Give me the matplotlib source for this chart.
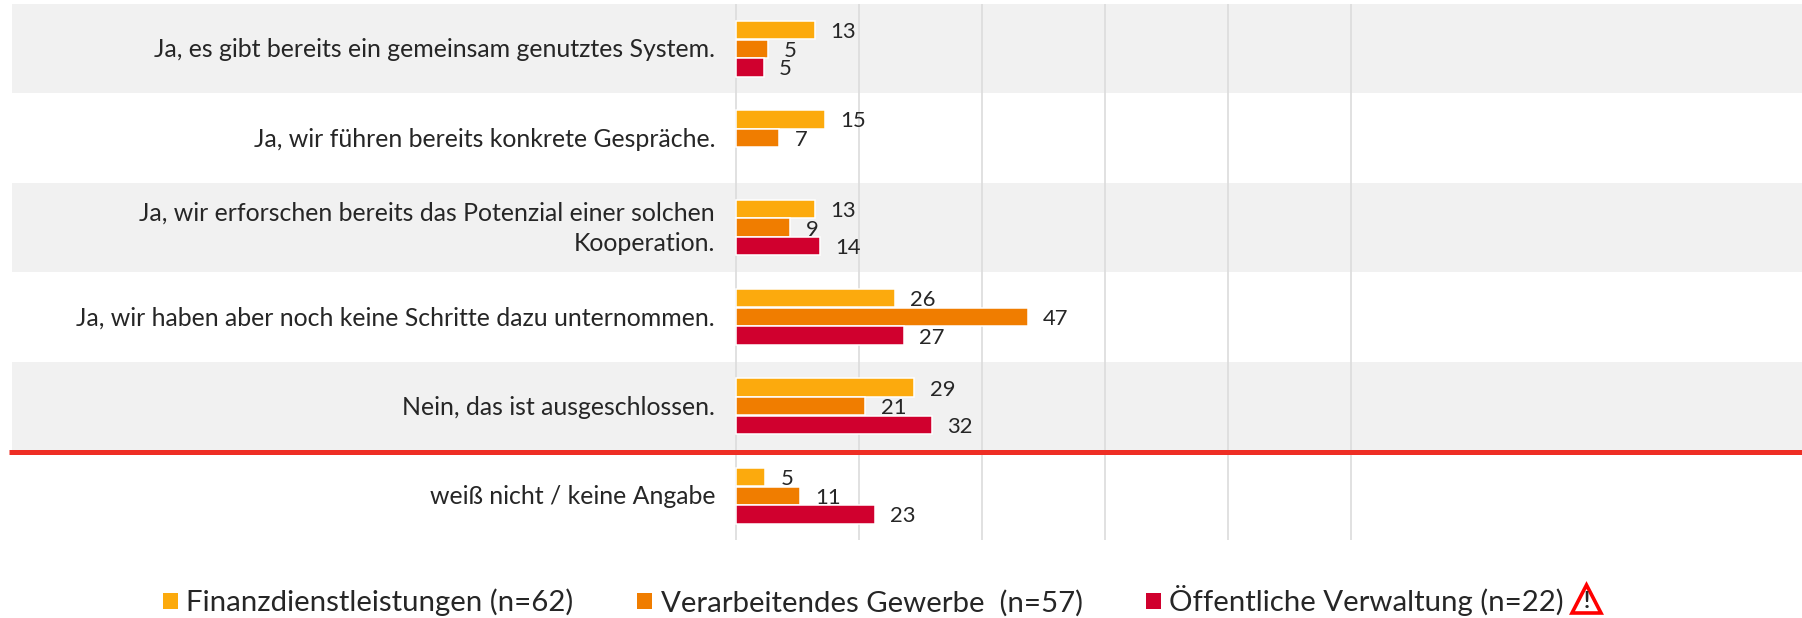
import numpy as np
import matplotlib
matplotlib.use("Agg")
import matplotlib.pyplot as plt
from matplotlib.patches import Patch, Polygon

categories = [
    "Ja, es gibt bereits ein gemeinsam genutztes System.",
    "Ja, wir führen bereits konkrete Gespräche.",
    "Ja, wir erforschen bereits das Potenzial einer solchen\nKooperation.",
    "Ja, wir haben aber noch keine Schritte dazu unternommen.",
    "Nein, das ist ausgeschlossen.",
    "weiß nicht / keine Angabe",
]
series_names = [
    "Finanzdienstleistungen (n=62)",
    "Verarbeitendes Gewerbe  (n=57)",
    "Öffentliche Verwaltung (n=22)",
]
finanz = [12.8, 14.4, 12.8, 25.8, 29.0, 4.7]
gewerbe = [5.2, 7.0, 8.8, 47.4, 21.0, 10.4]
verwaltung = [4.5, np.nan, 13.6, 27.3, 31.8, 22.6]
finanz_labels = ["13", "15", "13", "26", "29", "5"]
gewerbe_labels = ["5", "7", "9", "47", "21", "11"]
verwaltung_labels = ["5", "", "14", "27", "32", "23"]
grid_ticks = [0, 20, 40, 60, 80, 100]

YELLOW, ORANGE, RED = "#fcaa0d", "#f07d00", "#d0002e"
TEXT = "#262626"
W, H = 1802, 618
plt.rcParams["font.family"] = ["Lato", "DejaVu Sans"]

fig = plt.figure(figsize=(W / 100, H / 100), dpi=100)
left, right, top, bottom = 9, 1802, 4, 540.4
ax = fig.add_axes([left / W, 1 - bottom / H, (right - left) / W, (bottom - top) / H])
scale = 6.15
ax.set_xlim((left - 736) / scale, (right - 736) / scale)
ax.set_ylim(5.5, -0.5)
for s in ax.spines.values():
    s.set_visible(False)
ax.set_yticks([])
ax.set_xticks(grid_ticks)
ax.tick_params(axis="x", length=0, labelbottom=False)
ax.grid(axis="x", color="#dedede", linewidth=1.3)
ax.set_axisbelow(True)

for i in range(0, len(categories), 2):
    if i < 5:
        ax.axhspan(i - 0.5, i + 0.5, xmin=3 / (right - left), color="#f1f1f1", lw=0, zorder=0)

y = np.arange(len(categories))
pitch = 0.209
series = [(finanz, finanz_labels, YELLOW), (gewerbe, gewerbe_labels, ORANGE), (verwaltung, verwaltung_labels, RED)]
for k, (vals, labs, col) in enumerate(series):
    pos = y + (k - 1) * pitch
    ax.barh(pos, vals, height=pitch - 0.004, color=col, edgecolor="white", linewidth=1.1, zorder=3)
    for p, v, t in zip(pos, vals, labs):
        if t:
            ax.annotate(t, (v, p), xytext=(15.5 * 0.72, -2 * 0.72), textcoords="offset points",
                        va="center", ha="left", fontsize=15.8, color=TEXT, zorder=5)

for yy, cat in zip(y, categories):
    ax.annotate(cat, (0, yy), xytext=(-21 * 0.72, -1 * 0.72), textcoords="offset points",
                ha="right", va="center", fontsize=17.9, color=TEXT, linespacing=1.42, zorder=5)

ax.axhline(4.508, color="#ee2e24", linewidth=3.6, zorder=6, clip_on=False, solid_capstyle="butt")

handles = [Patch(facecolor=c, edgecolor="none", label=n) for c, n in zip((YELLOW, ORANGE, RED), series_names)]
fig.legend(handles=handles, ncol=3, loc="center", bbox_to_anchor=(863.5 / W, 1 - 601 / H), frameon=False,
           fontsize=21.2, labelcolor=TEXT, handlelength=0.5, handleheight=0.5, handletextpad=0.3,
           columnspacing=2.15, borderpad=0, borderaxespad=0)

def fp(x, y):
    return (x / W, 1 - y / H)

fig.add_artist(Polygon([fp(1572, 613), fp(1586.5, 585), fp(1601, 613)], closed=True, fill=False,
                       edgecolor="#ff0000", linewidth=2.6, joinstyle="miter", transform=fig.transFigure))
fig.text(*fp(1586.5, 602), "!", fontsize=16, fontweight="bold", color=TEXT, ha="center", va="center")

fig.savefig("out.png", dpi=100)
